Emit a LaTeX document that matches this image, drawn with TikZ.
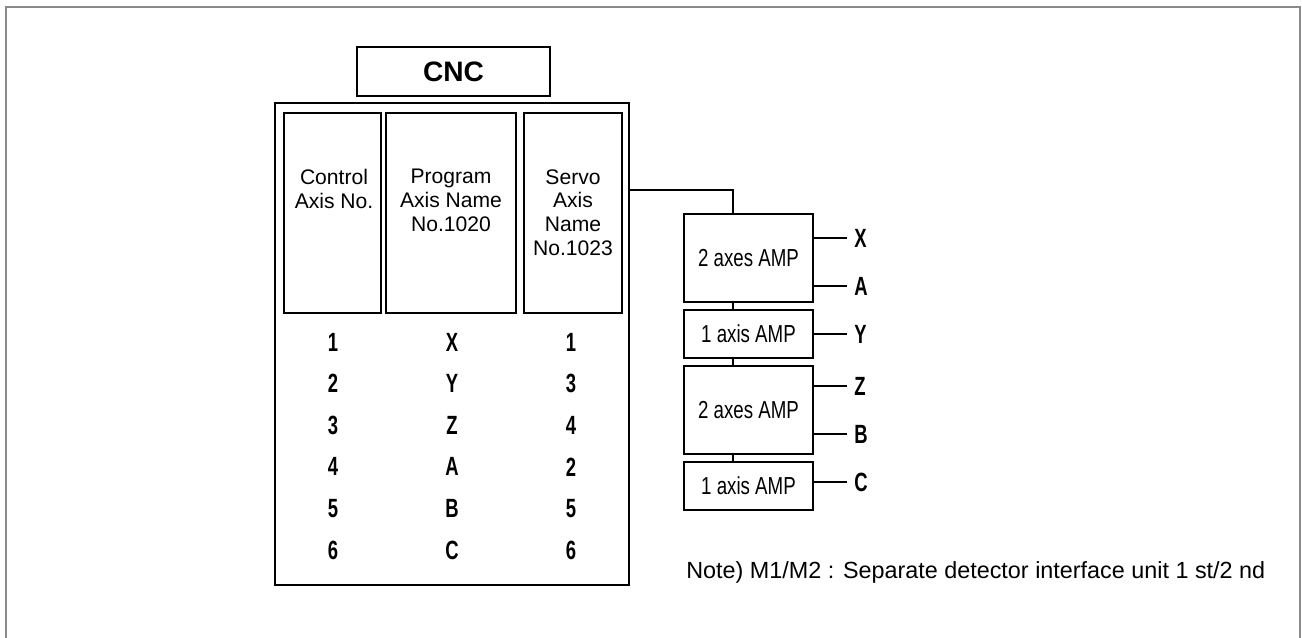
\documentclass[tikz,border=0pt]{standalone}
\usepackage{fontspec}
\setmainfont{Liberation Sans}
\newfontfamily\axisfont[FakeStretch=0.7]{Liberation Sans}
\newfontfamily\ampfont[FakeStretch=0.76]{Liberation Sans}
\definecolor{framegray}{HTML}{8A8A8A}

\begin{document}
\begin{tikzpicture}[
  x=0.02cm,
  y=-0.02cm,
  box/.style={draw, line width=1pt, inner sep=0pt},
  head/.style={anchor=north, align=center, inner sep=0pt, font=\fontsize{12}{13.6}\selectfont},
  cell/.style={inner sep=0pt, font=\axisfont\bfseries\fontsize{15}{16}\selectfont},
  amp/.style={box, minimum width=2.58cm, font=\ampfont\fontsize{14}{15}\selectfont},
  outlbl/.style={cell, anchor=west},
  wire/.style={line width=1pt}
]
\useasboundingbox (0,0) rectangle (1302,637);
\draw[framegray, line width=1.2pt] (6,640) -- (6,7) -- (1300,7) -- (1300,640);

% CNC side
\node[box, minimum width=3.86cm, minimum height=0.98cm, font=\bfseries\fontsize{16}{17}\selectfont] (cnc) at (453.5,71.5) {CNC};
\node[box, line width=1.1pt, minimum width=7.08cm, minimum height=9.64cm] (cncbody) at (452,344) {};
\node[box, minimum width=1.94cm, minimum height=4cm] (ctrlcol) at (332.5,213) {};
\node[box, minimum width=2.6cm, minimum height=4cm] (progcol) at (451,213) {};
\node[box, minimum width=1.96cm, minimum height=4cm] (servocol) at (573,213) {};
\node[head] (ctrltext) at (334,169) {Control\\Axis No.};
\node[head] (progtext) at (451,169) {Program\\Axis Name\\No.1020};
\node[head] (servotext) at (573,169) {Servo\\Axis\\Name\\No.1023};

\foreach \c/\p/\s [count=\i] in {1/X/1, 2/Y/3, 3/Z/4, 4/A/2, 5/B/5, 6/C/6} {
  \node[cell] (ctrl\i) at (333,{300.4+41.6*\i}) {\c};
  \node[cell] (prog\i) at (452,{300.4+41.6*\i}) {\p};
  \node[cell] (servo\i) at (571,{300.4+41.6*\i}) {\s};
}

% amplifiers
\node[amp, minimum height=1.76cm] (amp1) at (748.5,258) {2 axes AMP};
\node[amp, minimum height=0.96cm] (amp2) at (748.5,334) {1 axis AMP};
\node[amp, minimum height=1.76cm] (amp3) at (748.5,410) {2 axes AMP};
\node[amp, minimum height=0.96cm] (amp4) at (748.5,486) {1 axis AMP};

\coordinate (bus) at (733,190);
\draw[wire] (cncbody.east |- bus) -- (bus) -- (bus |- amp1.north);
\draw[wire] (bus |- amp1.south) -- (bus |- amp2.north);
\draw[wire] (bus |- amp2.south) -- (bus |- amp3.north);
\draw[wire] (bus |- amp3.south) -- (bus |- amp4.north);

\node[outlbl] (outX) at (854,238) {X};
\node[outlbl] (outA) at (854,286) {A};
\node[outlbl] (outY) at (854,334) {Y};
\node[outlbl] (outZ) at (854,386) {Z};
\node[outlbl] (outB) at (854,434) {B};
\node[outlbl] (outC) at (854,482) {C};
\draw[wire, shorten >=0.14cm] (amp1.east |- outX) -- (outX.west);
\draw[wire, shorten >=0.14cm] (amp1.east |- outA) -- (outA.west);
\draw[wire, shorten >=0.14cm] (amp2.east |- outY) -- (outY.west);
\draw[wire, shorten >=0.14cm] (amp3.east |- outZ) -- (outZ.west);
\draw[wire, shorten >=0.14cm] (amp3.east |- outB) -- (outB.west);
\draw[wire, shorten >=0.14cm] (amp4.east |- outC) -- (outC.west);

\node[anchor=west, inner sep=0pt, font=\fontsize{13.3}{15}\selectfont] (note) at (686,572) {Note) M1/M2 : Separate detector interface unit 1 st/2 nd};
\end{tikzpicture}
\end{document}
